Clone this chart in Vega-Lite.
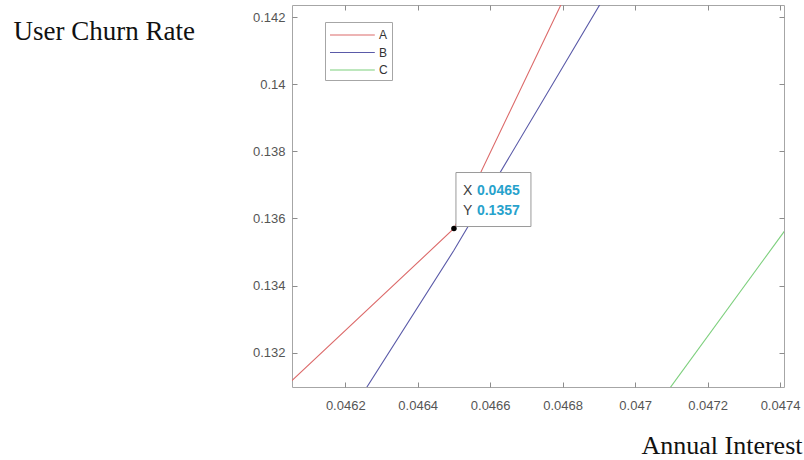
{
  "$schema": "https://vega.github.io/schema/vega-lite/v6.json",
  "width": 492,
  "height": 382,
  "autosize": {"type": "none"},
  "padding": {"left": 292, "top": 5, "right": 20, "bottom": 73},
  "background": "white",
  "config": {
    "view": {"stroke": "#a6a6a6", "strokeWidth": 1},
    "axis": {
      "grid": false,
      "domain": false,
      "tickColor": "#8c8c8c",
      "tickSize": -5,
      "labelFont": "Liberation Sans",
      "labelFontSize": 13,
      "labelColor": "#555555",
      "titleFont": "Liberation Serif",
      "titleFontSize": 27,
      "titleFontWeight": "normal",
      "titleColor": "#111111"
    }
  },
  "datasets": {
    "series": [
      {"series": "A", "rate": 0.0460, "churn": 0.13063},
      {"series": "A", "rate": 0.0465, "churn": 0.1357},
      {"series": "A", "rate": 0.0470, "churn": 0.1470},
      {"series": "B", "rate": 0.0460, "churn": 0.12656},
      {"series": "B", "rate": 0.0465, "churn": 0.13505},
      {"series": "B", "rate": 0.0470, "churn": 0.14415},
      {"series": "C", "rate": 0.0470, "churn": 0.12952},
      {"series": "C", "rate": 0.0475, "churn": 0.13692}
    ],
    "tip": [
      {"rate": 0.0465, "churn": 0.1357, "xlabel": "X", "ylabel": "Y", "xval": "0.0465", "yval": "0.1357"}
    ]
  },
  "layer": [
    {
      "data": {"name": "series"},
      "mark": {"type": "line", "clip": true, "strokeWidth": 1.1},
      "encoding": {
        "x": {
          "field": "rate", "type": "quantitative",
          "scale": {"domain": [0.046053, 0.047411], "nice": false, "zero": false},
          "axis": {
            "orient": "bottom",
            "values": [0.0462, 0.0464, 0.0466, 0.0468, 0.047, 0.0472, 0.0474],
            "format": "~g",
            "labelPadding": 17,
            "title": "Annual Interest",
            "titleFontSize": 26,
            "titleAlign": "left",
            "titleBaseline": "alphabetic",
            "titleX": 349,
            "titleY": 66
          }
        },
        "y": {
          "field": "churn", "type": "quantitative",
          "scale": {"domain": [0.130973, 0.142367], "nice": false, "zero": false},
          "axis": {
            "orient": "left",
            "values": [0.132, 0.134, 0.136, 0.138, 0.14, 0.142],
            "format": "~g",
            "labelPadding": 12,
            "title": "User Churn Rate",
            "titleAngle": 0,
            "titleAlign": "left",
            "titleBaseline": "alphabetic",
            "titleX": -279,
            "titleY": 34
          }
        },
        "color": {
          "field": "series", "type": "nominal",
          "scale": {"domain": ["A", "B", "C"], "range": ["#dc6a6a", "#5a5aa8", "#7ccf7c"]},
          "legend": {
            "orient": "none",
            "legendX": 33,
            "legendY": 17,
            "direction": "vertical",
            "title": null,
            "symbolType": "M-1,0H4.6",
            "symbolSize": 256,
            "symbolStrokeWidth": 1.1,
            "labelOffset": 32,
            "labelFont": "Liberation Sans",
            "labelFontSize": 12,
            "labelColor": "#333333",
            "rowPadding": 2.5,
            "padding": 4,
            "fillColor": "white",
            "strokeColor": "#a6a6a6"
          }
        }
      }
    },
    {
      "data": {"name": "tip"},
      "mark": {"type": "rect", "fill": "white", "stroke": "#9a9a9a", "strokeWidth": 1, "xOffset": 2, "x2Offset": 77, "yOffset": -56, "y2Offset": -2},
      "encoding": {
        "x": {"field": "rate", "type": "quantitative", "axis": null},
        "x2": {"field": "rate"},
        "y": {"field": "churn", "type": "quantitative", "axis": null},
        "y2": {"field": "churn"}
      }
    },
    {
      "data": {"name": "tip"},
      "mark": {"type": "text", "align": "left", "baseline": "alphabetic", "dx": 9, "dy": -34, "font": "Liberation Sans", "fontSize": 14, "color": "#404040"},
      "encoding": {
        "x": {"field": "rate", "type": "quantitative", "axis": null},
        "y": {"field": "churn", "type": "quantitative", "axis": null},
        "text": {"field": "xlabel"}
      }
    },
    {
      "data": {"name": "tip"},
      "mark": {"type": "text", "align": "left", "baseline": "alphabetic", "dx": 9, "dy": -14, "font": "Liberation Sans", "fontSize": 14, "color": "#404040"},
      "encoding": {
        "x": {"field": "rate", "type": "quantitative", "axis": null},
        "y": {"field": "churn", "type": "quantitative", "axis": null},
        "text": {"field": "ylabel"}
      }
    },
    {
      "data": {"name": "tip"},
      "mark": {"type": "text", "align": "left", "baseline": "alphabetic", "dx": 23, "dy": -34, "font": "Liberation Sans", "fontSize": 14, "fontWeight": "bold", "color": "#27a2cc"},
      "encoding": {
        "x": {"field": "rate", "type": "quantitative", "axis": null},
        "y": {"field": "churn", "type": "quantitative", "axis": null},
        "text": {"field": "xval"}
      }
    },
    {
      "data": {"name": "tip"},
      "mark": {"type": "text", "align": "left", "baseline": "alphabetic", "dx": 23, "dy": -14, "font": "Liberation Sans", "fontSize": 14, "fontWeight": "bold", "color": "#27a2cc"},
      "encoding": {
        "x": {"field": "rate", "type": "quantitative", "axis": null},
        "y": {"field": "churn", "type": "quantitative", "axis": null},
        "text": {"field": "yval"}
      }
    },
    {
      "data": {"name": "tip"},
      "mark": {"type": "point", "filled": true, "color": "black", "size": 30, "opacity": 1},
      "encoding": {
        "x": {
          "field": "rate", "type": "quantitative",
          "axis": {"orient": "top", "values": [0.0462, 0.0464, 0.0466, 0.0468, 0.047, 0.0472, 0.0474], "labels": false, "title": null}
        },
        "y": {
          "field": "churn", "type": "quantitative",
          "axis": {"orient": "right", "values": [0.132, 0.134, 0.136, 0.138, 0.14, 0.142], "labels": false, "title": null}
        }
      }
    }
  ],
  "resolve": {"axis": {"x": "independent", "y": "independent"}}
}
